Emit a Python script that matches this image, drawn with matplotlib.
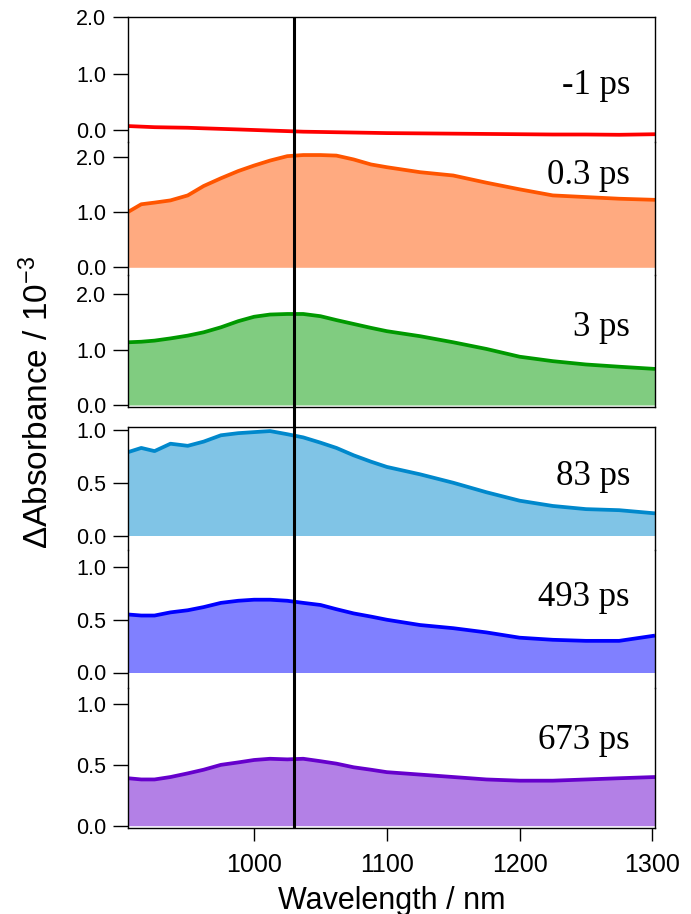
import matplotlib
matplotlib.use("Agg")
import matplotlib.pyplot as plt

plt.rcParams['font.family'] = ['Liberation Sans', 'DejaVu Sans']
plt.rcParams['mathtext.fontset'] = 'custom'
plt.rcParams['mathtext.rm'] = 'Liberation Sans'
plt.rcParams['mathtext.it'] = 'Liberation Sans:italic'

# wavelength grid (nm) and transient spectra (x 10^-3)
wavelength = [905, 915, 925, 937, 950, 962, 975, 988, 1000, 1012, 1025, 1037, 1050,
              1062, 1075, 1088, 1100, 1125, 1150, 1175, 1200, 1225, 1250, 1275, 1302]
delays = ["-1 ps", "0.3 ps", "3 ps", "83 ps", "493 ps", "673 ps"]
spec_m1 = [0.07, 0.06, 0.05, 0.045, 0.04, 0.03, 0.02, 0.01, 0.0, -0.01, -0.02, -0.03, -0.035,
           -0.04, -0.045, -0.05, -0.055, -0.06, -0.065, -0.07, -0.075, -0.08, -0.08, -0.085, -0.075]
spec_03 = [1.0, 1.14, 1.17, 1.21, 1.30, 1.47, 1.61, 1.74, 1.84, 1.93, 2.01, 2.03, 2.03,
           2.02, 1.95, 1.86, 1.81, 1.72, 1.66, 1.53, 1.41, 1.30, 1.27, 1.24, 1.22]
spec_3 = [1.13, 1.14, 1.16, 1.20, 1.25, 1.31, 1.40, 1.51, 1.59, 1.63, 1.64, 1.64, 1.60,
          1.53, 1.46, 1.39, 1.33, 1.24, 1.13, 1.01, 0.87, 0.79, 0.73, 0.69, 0.65]
spec_83 = [0.79, 0.83, 0.80, 0.87, 0.85, 0.89, 0.95, 0.97, 0.98, 0.99, 0.96, 0.93, 0.88,
           0.83, 0.76, 0.70, 0.65, 0.58, 0.50, 0.41, 0.33, 0.28, 0.25, 0.24, 0.21]
spec_493 = [0.55, 0.54, 0.54, 0.57, 0.59, 0.62, 0.66, 0.68, 0.69, 0.69, 0.68, 0.66, 0.64,
            0.60, 0.56, 0.53, 0.50, 0.45, 0.42, 0.38, 0.33, 0.31, 0.30, 0.30, 0.35]
spec_673 = [0.39, 0.38, 0.38, 0.40, 0.43, 0.46, 0.50, 0.52, 0.54, 0.55, 0.545, 0.55, 0.53,
            0.51, 0.48, 0.46, 0.44, 0.42, 0.40, 0.38, 0.37, 0.37, 0.38, 0.39, 0.40]
spectra = [spec_m1, spec_03, spec_3, spec_83, spec_493, spec_673]
marker_nm = 1030

line_colors = ["#ff0000", "#ff5500", "#009900", "#0088cc", "#0000ff", "#6600cc"]
fill_colors = [None, "#ffaa80", "#80cc80", "#80c4e6", "#8080ff", "#b380e6"]

W, H = 691, 914
left, right = 128, 655
# (axes top px, axes bottom px, top tick value, top tick px, zero px)
panels = [
    (17.5, 142, 2.0, 17.5, 130.0),
    (142, 275, 2.0, 156.7, 267.3),
    (275, 406.7, 2.0, 294.0, 405.0),
    (426.7, 550, 1.0, 430.0, 535.5),
    (550, 688, 1.0, 567.0, 672.5),
    (688, 828, 1.0, 704.0, 825.7),
]
label_base = [94, 184, 336, 485, 606.5, 749]

fig = plt.figure(figsize=(W / 100, H / 100), dpi=100)
xlim = (905, 1302)

for i, (top, bot, tv, ty, y0) in enumerate(panels):
    ax = fig.add_axes([left / W, 1 - bot / H, (right - left) / W, (bot - top) / H])
    ax.set_facecolor('none')
    s = (y0 - ty) / tv
    ax.set_ylim((y0 - bot) / s, (y0 - top) / s)
    ax.set_xlim(*xlim)
    if fill_colors[i]:
        ax.fill_between(wavelength, 0, spectra[i], color=fill_colors[i], lw=0)
    ax.plot(wavelength, spectra[i], color=line_colors[i], lw=2.7, solid_capstyle='butt')

    if tv == 2.0:
        ax.set_yticks([0, 1, 2])
        ax.set_yticklabels(["0.0", "1.0", "2.0"])
    else:
        ax.set_yticks([0, 0.5, 1.0])
        ax.set_yticklabels(["0.0", "0.5", "1.0"])
    ax.tick_params(axis='y', direction='out', length=10.5, width=1, pad=5, labelsize=15.5)

    for sp in ax.spines.values():
        sp.set_linewidth(1)
    ax.spines['top'].set_visible(i in (0, 3))
    ax.spines['bottom'].set_visible(i in (2, 5))
    if i == 5:
        ax.set_xticks([1000, 1100, 1200, 1300])
        ax.tick_params(axis='x', direction='out', length=9, width=1, pad=9, labelsize=18)
    else:
        ax.set_xticks([])

    fig.text(630 / W, 1 - label_base[i] / H, delays[i], ha='right', va='baseline',
             family='Liberation Serif', fontsize=25)

# vertical marker across all panels
over = fig.add_axes([left / W, 1 - 828 / H, (right - left) / W, (828 - 17.5) / H])
over.set_xlim(*xlim)
over.axvline(marker_nm, color='black', lw=2.2)
over.axis('off')

fig.text((left + right) / 2 / W, 1 - 886 / H, "Wavelength / nm", ha='center', va='top', fontsize=22)
fig.text(38 / W, 1 - 402 / H, "ΔAbsorbance / 10$^{-3}$", rotation=90, ha='center', va='center',
         fontsize=24)

fig.savefig("out.png", dpi=100)
